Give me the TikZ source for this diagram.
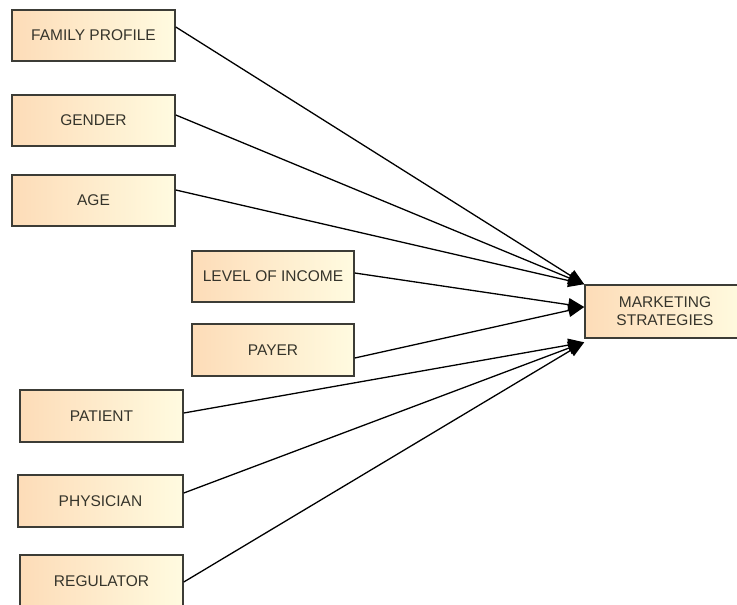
\documentclass[tikz,border=0pt]{standalone}
\usepackage{fontspec}
\setmainfont{Liberation Sans}
\usetikzlibrary{arrows.meta}
\definecolor{boxleft}{HTML}{FDDCB8}
\definecolor{boxright}{HTML}{FFFBE0}
\definecolor{boxline}{HTML}{3C3C36}
\definecolor{txt}{HTML}{35342B}
\tikzset{
  factor/.style={draw=boxline, line width=1.6pt, left color=boxleft, right color=boxright,
    minimum height=51pt, inner sep=0pt, text=txt, font=\fontsize{15.5}{18}\selectfont, align=center},
  link/.style={draw=black, line width=1.3pt, -{Triangle[length=16pt,width=13pt]}}
}
\begin{document}
\begin{tikzpicture}[x=1pt,y=-1pt]
\useasboundingbox (0,0) rectangle (737,605);
\clip (0,0) rectangle (737,605);
\fill[white] (0,0) rectangle (737,605);
\node[factor, minimum width=163pt] (fp) at (93.5,35.5) {FAMILY PROFILE};
\node[factor, minimum width=163pt] (gender) at (93.5,120.5) {GENDER};
\node[factor, minimum width=163pt] (age) at (93.5,200.5) {AGE};
\node[factor, minimum width=162pt] (loi) at (273,276.5) {LEVEL OF INCOME};
\node[factor, minimum width=162pt, minimum height=52pt] (payer) at (273,350) {PAYER};
\node[factor, minimum width=163pt, minimum height=52pt] (patient) at (101.5,416) {PATIENT};
\node[factor, minimum width=165pt, minimum height=52pt] (physician) at (100.5,501) {PHYSICIAN};
\node[factor, minimum width=163pt, minimum height=52pt] (regulator) at (101.5,581) {REGULATOR};
\node[factor, minimum width=160pt, minimum height=53pt, text width=150pt] (ms) at (665,311.5) {MARKETING\\STRATEGIES};
\coordinate (ttop) at (ms.north west);
\coordinate (tmid) at ([yshift=4.5pt]ms.west);
\coordinate (tbot) at ([yshift=-3.5pt]ms.south west);
\draw[link] ([yshift=8.5pt]fp.east) -- (ttop);
\draw[link] ([yshift=5.5pt]gender.east) -- (ttop);
\draw[link] ([yshift=10.5pt]age.east) -- (ttop);
\draw[link] ([yshift=3.5pt]loi.east) -- (tmid);
\draw[link] ([yshift=-8pt]payer.east) -- (tmid);
\draw[link] ([yshift=3pt]patient.east) -- (tbot);
\draw[link] ([yshift=8pt]physician.east) -- (tbot);
\draw[link] ([yshift=-1pt]regulator.east) -- (tbot);
\end{tikzpicture}
\end{document}
